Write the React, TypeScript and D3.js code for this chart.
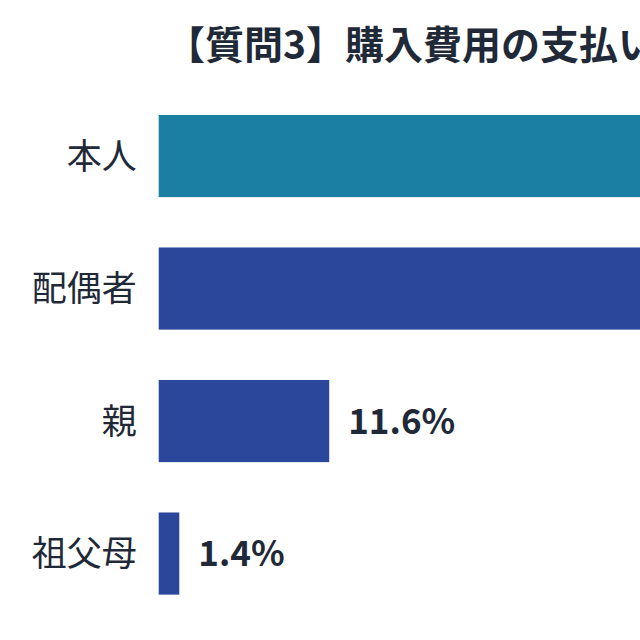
import React, { useEffect, useRef } from 'react';
import * as d3 from 'd3';

// 支払者カテゴリと割合（%）
const categories = ['本人', '配偶者', '親', '祖父母'];
const values = [79.5, 38.4, 11.6, 1.4];
const barColors = ['#1a7fa3', '#2b479b', '#2b479b', '#2b479b'];
const title = '【質問3】購入費用の支払いについて';

const W = 640, H = 640;

const App: React.FC = () => {
  const svgRef = useRef<SVGSVGElement>(null);

  useEffect(() => {
    if (!svgRef.current) return;
    const svg = d3.select(svgRef.current);
    svg.selectAll('*').remove();

    const font = '"Noto Sans CJK JP", "Noto Sans", sans-serif';
    const x0 = 158.7;
    const x = d3.scaleLinear().domain([0, 100]).range([x0, x0 + 1470]);
    const y = d3.scaleBand<string>()
      .domain(categories)
      .range([89.8, 619.8])
      .paddingInner(0.38)
      .paddingOuter(0.19);

    svg.append('text')
      .attr('x', 166).attr('y', 59)
      .attr('font-family', font).attr('font-weight', 700)
      .attr('font-size', 39).attr('fill', '#1f2937')
      .text(title);

    const rows = svg.selectAll('g.row')
      .data(categories)
      .enter().append('g').attr('class', 'row');

    rows.append('rect')
      .attr('x', x(0))
      .attr('y', d => y(d)!)
      .attr('width', (d, i) => x(values[i]) - x(0))
      .attr('height', y.bandwidth())
      .attr('fill', (d, i) => barColors[i]);

    // 左のカテゴリ名
    rows.append('text')
      .attr('x', x(0) - 22)
      .attr('y', d => y(d)! + y.bandwidth() / 2)
      .attr('dy', '0.36em')
      .attr('text-anchor', 'end')
      .attr('font-family', font).attr('font-size', 35)
      .attr('fill', '#1f2937')
      .text(d => d);

    // 値ラベル
    rows.append('text')
      .attr('x', (d, i) => x(values[i]) + 19)
      .attr('y', d => y(d)! + y.bandwidth() / 2)
      .attr('dy', '0.36em')
      .attr('font-family', font).attr('font-weight', 700).attr('font-size', 35)
      .attr('fill', '#1f2937')
      .text((d, i) => `${values[i].toFixed(1)}%`);
  }, []);

  return (
    <div style={{ position: 'fixed', left: 0, top: 0, width: W, height: H, overflow: 'hidden', background: '#fff' }}>
      <svg ref={svgRef} width={W} height={H}></svg>
    </div>
  );
};

export default App;
